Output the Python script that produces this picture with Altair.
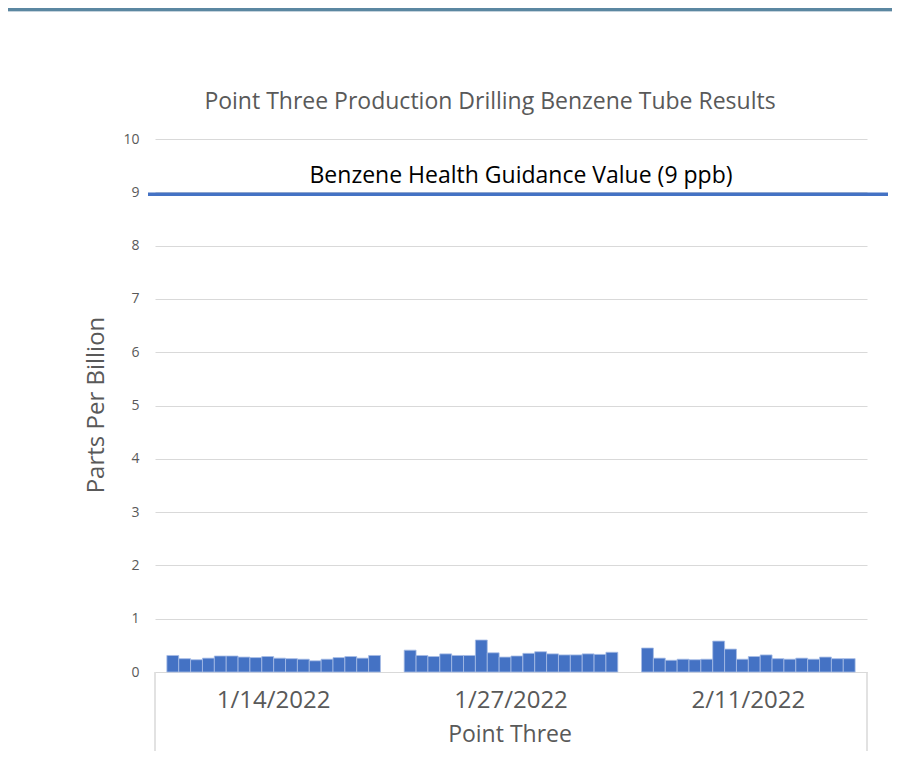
import altair as alt
import pandas as pd

# ---- data ----
dates = ["1/14/2022", "1/27/2022", "2/11/2022"]
g1 = [0.31, 0.25, 0.23, 0.26, 0.30, 0.30, 0.28, 0.27, 0.29, 0.26, 0.25, 0.24, 0.21, 0.24, 0.27, 0.29, 0.26, 0.31]
g2 = [0.41, 0.31, 0.29, 0.34, 0.31, 0.31, 0.60, 0.36, 0.28, 0.30, 0.35, 0.38, 0.34, 0.32, 0.32, 0.34, 0.33, 0.37]
g3 = [0.45, 0.26, 0.22, 0.24, 0.23, 0.24, 0.58, 0.43, 0.24, 0.29, 0.32, 0.25, 0.24, 0.26, 0.24, 0.28, 0.25, 0.25]
guidance_value = 9
guidance_label = "Benzene Health Guidance Value (9 ppb)"
title_text = "Point Three Production Drilling Benzene Tube Results"
y_title = "Parts Per Billion"
x_title = "Point Three"
y_ticks = list(range(0, 11))

SLOTS = 20  # category slots per date group (first and last empty)
rows = []
for gi, vals in enumerate([g1, g2, g3]):
    for j, v in enumerate(vals):
        start = gi * SLOTS + 1 + j
        rows.append({"date": dates[gi], "x0": start, "x1": start + 1, "ppb": v})
bars_df = pd.DataFrame(rows)
labels_df = pd.DataFrame({"date": dates, "xc": [gi * SLOTS + SLOTS / 2 for gi in range(3)]})

W, H = 712, 533
FONT = "Open Sans"
GRAY = "#595959"

xs = alt.Scale(domain=[0, 3 * SLOTS], nice=False, zero=False)
ys = alt.Scale(domain=[0, 10], nice=False)

bars = alt.Chart(bars_df).mark_bar(
    color="#4472C4", stroke="#A7BDE6", strokeWidth=0.8
).encode(
    x=alt.X("x0:Q", scale=xs, axis=None),
    x2="x1:Q",
    y=alt.Y("ppb:Q", scale=ys, axis=alt.Axis(
        values=y_ticks, grid=True, gridColor="#D9D9D9", gridWidth=1.2,
        domain=False, ticks=False, labelPadding=16, labelFontSize=14,
        labelColor=GRAY, labelFont=FONT, title=None)),
    y2=alt.datum(0),
)

guide = alt.Chart(pd.DataFrame({"v": [guidance_value]})).mark_rule(
    color="#4472C4", strokeWidth=3.5, yOffset=2
).encode(y=alt.Y("v:Q", scale=ys), x=alt.value(-7), x2=alt.value(733))

guide_text = alt.Chart(pd.DataFrame({"v": [guidance_value], "t": [guidance_label]})).mark_text(
    font=FONT, fontSize=23, color="black", dy=-16
).encode(y=alt.Y("v:Q", scale=ys), x=alt.value(366), text="t:N")

date_text = alt.Chart(labels_df).mark_text(
    font=FONT, fontSize=24, color=GRAY, baseline="middle"
).encode(x=alt.X("xc:Q", scale=xs), y=alt.value(562), text="date:N")

xtitle = alt.Chart(pd.DataFrame({"t": [x_title]})).mark_text(
    font=FONT, fontSize=23, color=GRAY, baseline="middle"
).encode(x=alt.value(355), y=alt.value(596), text="t:N")

ytitle = alt.Chart(pd.DataFrame({"t": [y_title]})).mark_text(
    font=FONT, fontSize=24, color=GRAY, angle=270, baseline="middle"
).encode(x=alt.value(-58), y=alt.value(266), text="t:N")

ttl = alt.Chart(pd.DataFrame({"t": [title_text]})).mark_text(
    font=FONT, fontSize=23, color=GRAY, baseline="middle"
).encode(x=alt.value(335), y=alt.value(-37), text="t:N")

edges = alt.Chart(pd.DataFrame({"e": [0, 3 * SLOTS]})).mark_rule(
    color="#D9D9D9", strokeWidth=1.5
).encode(x=alt.X("e:Q", scale=xs), y=alt.datum(0), y2=alt.datum(-1.75))

top_band = alt.Chart(pd.DataFrame({"a": [1]})).mark_rect(color="#5B87A1").encode(
    x=alt.value(-160), x2=alt.value(760), y=alt.value(-140), y2=alt.value(-128))
top_line = alt.Chart(pd.DataFrame({"a": [1]})).mark_rect(color="#C5D3DD").encode(
    x=alt.value(-160), x2=alt.value(760), y=alt.value(-128), y2=alt.value(-127))

chart = alt.layer(
    bars, guide, guide_text, date_text, xtitle, ytitle, ttl, edges, top_band, top_line
).properties(
    width=W, height=H,
    background="white",
    autosize=alt.AutoSizeParams(type="none"),
    padding={"left": 147, "top": 131, "right": 25, "bottom": 79},
).configure_view(strokeWidth=0, stroke="transparent")

chart.save("out.html", embed_options={"renderer": "svg", "actions": False})
